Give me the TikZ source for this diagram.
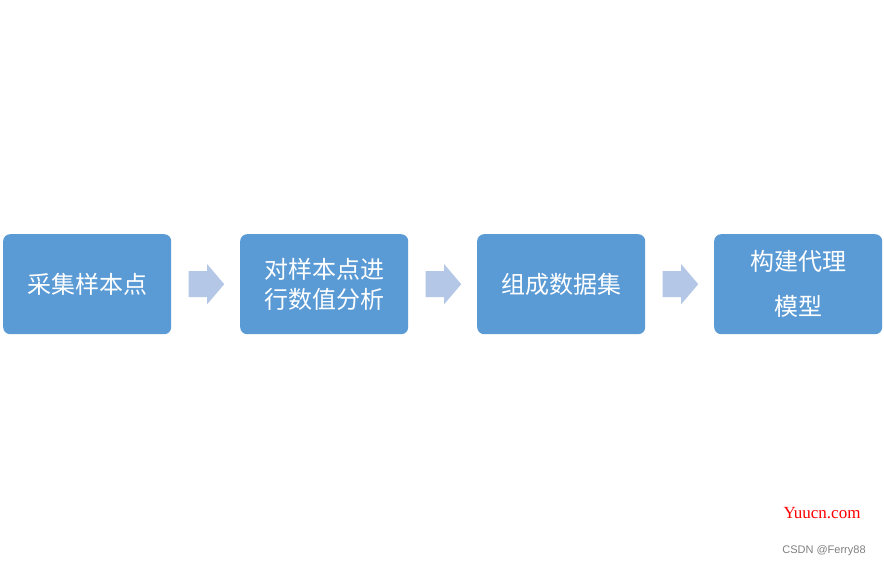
\documentclass[tikz,border=0pt]{standalone}
\usepackage{fontspec}
\newfontfamily\cjk{Noto Sans CJK SC}
\definecolor{boxc}{HTML}{5B9BD5}
\definecolor{arrc}{HTML}{B4C7E7}
\begin{document}
\begin{tikzpicture}[x=1pt,y=1pt,
  stepbox/.style={fill=boxc,rounded corners=7pt,minimum width=168pt,minimum height=100pt,inner sep=0pt,text=white,font=\cjk\fontsize{24}{34}\selectfont,align=center,anchor=north west},
  arr/.style={fill=arrc,draw=none}]
\useasboundingbox (0,0) rectangle (884,568);
\fill[white] (0,0) rectangle (884,568);
\node[stepbox] (a) at (3,334) {采集样本点};
\node[stepbox,font=\cjk\fontsize{24}{30}\selectfont] (b) at (240,334) {对样本点进\\行数值分析};
\node[stepbox] (c) at (477,334) {组成数据集};
\node[stepbox,font=\cjk\fontsize{24}{45}\selectfont] (d) at (714,334) {构建代理\\模型};
\foreach \s/\t in {a/b,b/c,c/d}{
  \path (\s.east) -- (\t.west) coordinate[pos=0.25] (p\s) coordinate[pos=0.77] (q\s);
  \fill[arr] ([yshift=-13pt]p\s) -- ([xshift=-17pt,yshift=-13pt]q\s) -- ([xshift=-17pt,yshift=-20pt]q\s) -- (q\s) -- ([xshift=-17pt,yshift=20pt]q\s) -- ([xshift=-17pt,yshift=13pt]q\s) -- ([yshift=13pt]p\s) -- cycle;
}
\node[text=red,font=\fontspec{Liberation Serif}\fontsize{17}{17}\selectfont] (w1) at (822,55) {Yuucn.com};
\node[text=gray,font=\fontspec{Liberation Sans}\fontsize{11}{11}\selectfont] (w2) at (824,17) {CSDN @Ferry88};
\end{tikzpicture}
\end{document}
